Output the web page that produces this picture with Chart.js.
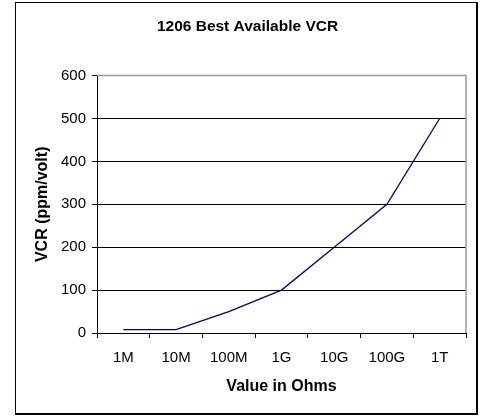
<!DOCTYPE html>
<html>
<head>
<meta charset="utf-8">
<script src="https://cdn.jsdelivr.net/npm/chart.js@4/dist/chart.umd.min.js"></script>
<style>
  html, body { margin: 0; padding: 0; background: #fff; }
  #wrap { position: relative; width: 487px; height: 416px; }
  #frame { position: absolute; left: 15px; top: 2px; width: 460px; height: 410px;
           border-left: 1.5px solid #000; border-top: 1.5px solid #000;
           border-right: 2px solid #000; border-bottom: 2px solid #000; pointer-events: none; }
  canvas { position: absolute; left: 0; top: 0; }
</style>
</head>
<body>
<div id="wrap">
  <canvas id="c" width="487" height="416"></canvas>
  <div id="frame"></div>
</div>
<script>
const categories = ['1M', '10M', '100M', '1G', '10G', '100G', '1T'];
const vcrValues = [8, 8, 50, 100, 200, 300, 500];
const yTicks = [0, 100, 200, 300, 400, 500, 600];
const chartTitle = '1206 Best Available VCR';
const xTitle = 'Value in Ohms';
const yTitle = 'VCR (ppm/volt)';

const FONT = '"Liberation Sans", Arial, sans-serif';

const plotBorder = {
  id: 'plotBorder',
  afterDatasetsDraw(chart) {
    const a = chart.chartArea, ctx = chart.ctx;
    ctx.save();
    ctx.strokeStyle = '#9a9a9a';
    ctx.lineWidth = 1.5;
    ctx.beginPath();
    ctx.moveTo(a.left, a.top);
    ctx.lineTo(a.right, a.top);
    ctx.lineTo(a.right, a.bottom);
    ctx.stroke();
    ctx.restore();
  }
};

new Chart(document.getElementById('c'), {
  type: 'line',
  data: {
    labels: categories,
    datasets: [{
      data: vcrValues,
      borderColor: '#000080',
      borderWidth: 1.3,
      pointRadius: 0,
      tension: 0,
      fill: false
    }]
  },
  options: {
    responsive: false,
    animation: false,
    devicePixelRatio: 1,
    layout: { padding: { left: 29, right: 21, top: 7, bottom: 16 } },
    plugins: {
      legend: { display: false },
      tooltip: { enabled: false },
      title: {
        display: true,
        text: chartTitle,
        color: '#000',
        font: { family: FONT, size: 15.5, weight: 'bold' },
        padding: { top: 10, bottom: 40 }
      }
    },
    scales: {
      x: {
        type: 'category',
        offset: true,
        grid: {
          offset: true,
          drawOnChartArea: false,
          drawTicks: true,
          tickLength: 5,
          color: '#000',
          tickColor: '#000'
        },
        border: { color: '#000', width: 1 },
        ticks: {
          color: '#000',
          font: { family: FONT, size: 15 },
          padding: 11,
          maxRotation: 0,
          autoSkip: false
        },
        title: {
          display: true,
          text: xTitle,
          color: '#000',
          font: { family: FONT, size: 16, weight: 'bold' },
          padding: { top: 4, bottom: 4 }
        },
        afterFit(scale) { scale.height = 67; }
      },
      y: {
        min: 0,
        max: 600,
        afterBuildTicks(scale) { scale.ticks = yTicks.map(v => ({ value: v })); },
        grid: {
          drawTicks: true,
          tickLength: 5,
          color: (ctx) => (ctx.tick && ctx.tick.value === 600) ? '#9a9a9a' : '#000',
          tickColor: '#000',
          lineWidth: 1
        },
        border: { color: '#000', width: 1 },
        ticks: {
          color: '#000',
          font: { family: FONT, size: 15 },
          padding: 6
        },
        title: {
          display: true,
          text: yTitle,
          color: '#000',
          font: { family: FONT, size: 16, weight: 'bold' },
          padding: { top: 4, bottom: 4 }
        },
        afterFit(scale) { scale.width = 68; }
      }
    }
  },
  plugins: [plotBorder]
});
</script>
</body>
</html>
